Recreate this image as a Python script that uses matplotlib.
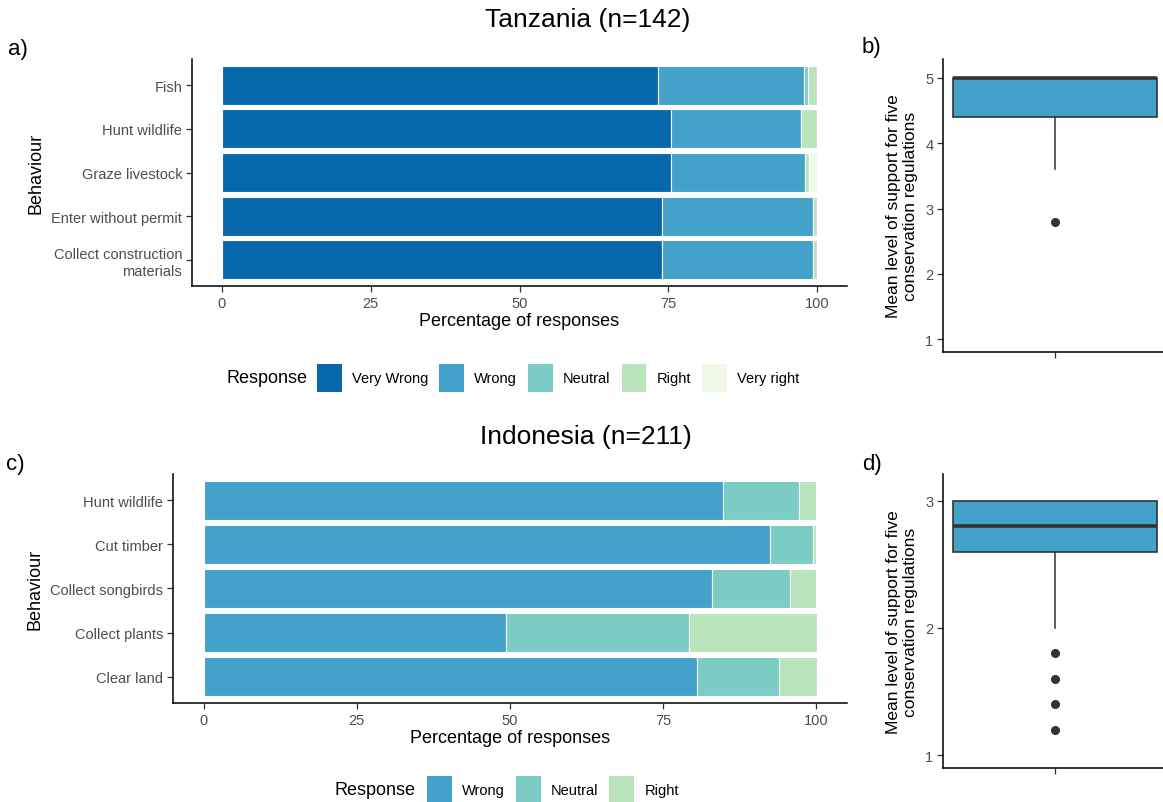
import matplotlib
matplotlib.use("Agg")
import matplotlib.pyplot as plt
from matplotlib.patches import Patch

plt.rcParams['font.family'] = ['Liberation Sans', 'DejaVu Sans']

# Tanzania (n=142), percentages of responses per behaviour
tz_behaviours = ["Fish", "Hunt wildlife", "Graze livestock", "Enter without permit",
                 "Collect construction\nmaterials"]
tz_responses = ["Very Wrong", "Wrong", "Neutral", "Right", "Very right"]
tz_very_wrong = [73.2, 75.4, 75.4, 73.9, 73.9]
tz_wrong = [24.6, 21.8, 22.5, 25.4, 25.4]
tz_neutral = [0.7, 0.0, 0.0, 0.0, 0.0]
tz_right = [1.4, 2.8, 0.7, 0.7, 0.7]
tz_very_right = [0.0, 0.0, 1.4, 0.0, 0.0]

# Indonesia (n=211)
id_behaviours = ["Hunt wildlife", "Cut timber", "Collect songbirds", "Collect plants", "Clear land"]
id_responses = ["Wrong", "Neutral", "Right"]
id_wrong = [84.8, 92.4, 82.9, 49.3, 80.6]
id_neutral = [12.3, 7.1, 12.8, 29.9, 13.3]
id_right = [2.8, 0.5, 4.3, 20.9, 6.2]

# boxplot summaries: mean support for five conservation regulations
tz_box = dict(med=5.0, q1=4.4, q3=5.0, whislo=3.6, whishi=5.0, fliers=[2.8])
id_box = dict(med=2.8, q1=2.6, q3=3.0, whislo=2.0, whishi=3.0, fliers=[1.8, 1.6, 1.4, 1.2])

colors = {"Very Wrong": "#0868ac", "Wrong": "#43a2ca", "Neutral": "#7bccc4",
          "Right": "#bae4bc", "Very right": "#f0f9e8"}

W, H = 1163, 803
fig = plt.figure(figsize=(W / 100, H / 100), dpi=100)


def box(l, t, r, b):
    return [l / W, 1 - b / H, (r - l) / W, (b - t) / H]


def classic(ax):
    for s in ['top', 'right']:
        ax.spines[s].set_visible(False)
    for s in ['left', 'bottom']:
        ax.spines[s].set_linewidth(1.1)
        ax.spines[s].set_color('black')
    ax.tick_params(colors='#333333', labelcolor='#4d4d4d', length=4, width=0.9,
                   labelsize=10.5, pad=3)


def stacked(ax, cats, series, names):
    ypos = list(range(len(cats), 0, -1))
    left = [0.0] * len(cats)
    for vals, name in zip(series, names):
        ax.barh(ypos, vals, left=left, height=0.9, color=colors[name],
                edgecolor='white', linewidth=0.8)
        left = [a + b for a, b in zip(left, vals)]
    ax.set_yticks(ypos)
    ax.set_yticklabels(cats)
    ax.set_ylim(0.4, len(cats) + 0.6)
    ax.set_xlim(-5, 105)
    ax.set_xticks([0, 25, 50, 75, 100])
    ax.set_xlabel("Percentage of responses", fontsize=13, labelpad=2)
    ax.set_ylabel("Behaviour", fontsize=13, labelpad=5)
    classic(ax)


def boxpanel(ax, stats, ylim, yticks):
    ax.bxp([stats], positions=[0], widths=1.0, patch_artist=True, showcaps=False,
           boxprops=dict(facecolor="#43a2ca", edgecolor="#333333", linewidth=1.2),
           medianprops=dict(color="#333333", linewidth=2.6),
           whiskerprops=dict(color="#333333", linewidth=1.1),
           flierprops=dict(marker='o', markerfacecolor='#333333', markeredgecolor='#333333',
                           markersize=5.5))
    ax.set_xlim(-0.55, 0.53)
    ax.set_ylim(*ylim)
    ax.set_yticks(yticks)
    ax.set_xticks([0])
    ax.set_xticklabels([""])
    ax.set_ylabel("Mean level of support for five\nconservation regulations", fontsize=12.5,
                  labelpad=5)
    classic(ax)


ax_a = fig.add_axes(box(192, 60, 847, 287))
stacked(ax_a, tz_behaviours, [tz_very_wrong, tz_wrong, tz_neutral, tz_right, tz_very_right],
        tz_responses)

ax_b = fig.add_axes(box(943, 60, 1163, 353))
boxpanel(ax_b, tz_box, (0.805, 5.29), [1, 2, 3, 4, 5])

ax_c = fig.add_axes(box(173, 475, 847, 704))
stacked(ax_c, id_behaviours, [id_wrong, id_neutral, id_right], id_responses)

ax_d = fig.add_axes(box(943, 475, 1163, 769))
boxpanel(ax_d, id_box, (0.90, 3.21), [1, 2, 3])

# titles and panel letters
fig.text(588 / W, 1 - 20 / H, "Tanzania (n=142)", fontsize=19, ha='center', va='center')
fig.text(586 / W, 1 - 437 / H, "Indonesia (n=211)", fontsize=19, ha='center', va='center')
for lab, x, y in [("a)", 8, 50), ("b)", 862, 48), ("c)", 6, 465), ("d)", 862, 465)]:
    fig.text(x / W, 1 - y / H, lab, fontsize=16, ha='left', va='center')


def legend(names, title_x, key_x, y):
    fig.text(title_x / W, 1 - y / H, "Response", fontsize=13, ha='left', va='center')
    handles = [Patch(facecolor=colors[n], edgecolor='none') for n in names]
    fig.legend(handles, names, loc='center left', bbox_to_anchor=(key_x / W, 1 - y / H),
               ncol=len(names), frameon=False, fontsize=10.5, handlelength=1.7,
               handleheight=2.5, handletextpad=0.7, columnspacing=0.75, borderpad=0,
               borderaxespad=0)


legend(tz_responses, 226, 317, 379)
legend(id_responses, 335, 427, 791)

fig.savefig("out.png", dpi=100)
